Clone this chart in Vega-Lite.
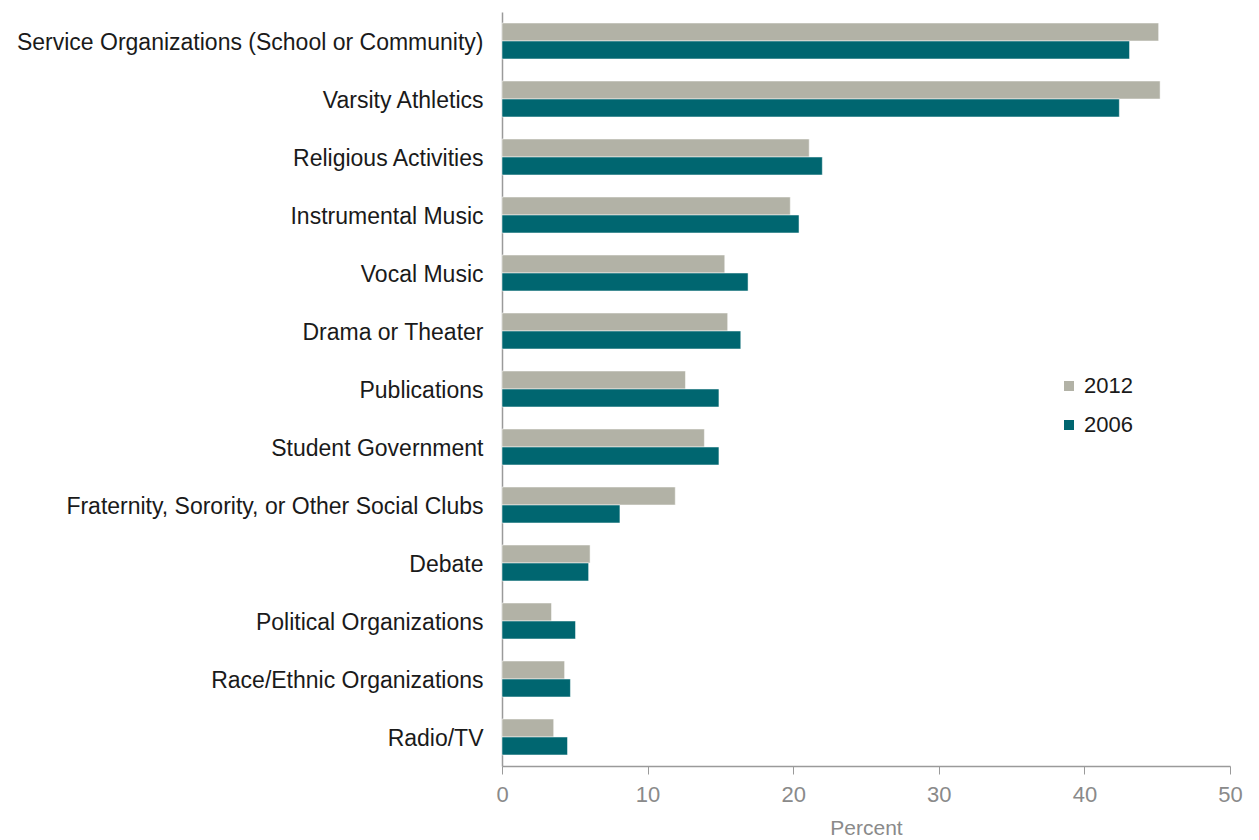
{
  "$schema": "https://vega.github.io/schema/vega-lite/v6.json",
  "autosize": "none",
  "width": 728,
  "height": 754,
  "padding": {"left": 502, "top": 12, "right": 29, "bottom": 74},
  "background": "white",
  "config": {"view": {"stroke": null}, "font": "Liberation Sans"},
  "data": {"values": [
    {"activity": "Service Organizations (School or Community)", "year": "2012", "pct": 45.1},
    {"activity": "Service Organizations (School or Community)", "year": "2006", "pct": 43.1},
    {"activity": "Varsity Athletics", "year": "2012", "pct": 45.2},
    {"activity": "Varsity Athletics", "year": "2006", "pct": 42.4},
    {"activity": "Religious Activities", "year": "2012", "pct": 21.1},
    {"activity": "Religious Activities", "year": "2006", "pct": 22.0},
    {"activity": "Instrumental Music", "year": "2012", "pct": 19.8},
    {"activity": "Instrumental Music", "year": "2006", "pct": 20.4},
    {"activity": "Vocal Music", "year": "2012", "pct": 15.3},
    {"activity": "Vocal Music", "year": "2006", "pct": 16.9},
    {"activity": "Drama or Theater", "year": "2012", "pct": 15.5},
    {"activity": "Drama or Theater", "year": "2006", "pct": 16.4},
    {"activity": "Publications", "year": "2012", "pct": 12.6},
    {"activity": "Publications", "year": "2006", "pct": 14.9},
    {"activity": "Student Government", "year": "2012", "pct": 13.9},
    {"activity": "Student Government", "year": "2006", "pct": 14.9},
    {"activity": "Fraternity, Sorority, or Other Social Clubs", "year": "2012", "pct": 11.9},
    {"activity": "Fraternity, Sorority, or Other Social Clubs", "year": "2006", "pct": 8.1},
    {"activity": "Debate", "year": "2012", "pct": 6.05},
    {"activity": "Debate", "year": "2006", "pct": 5.95},
    {"activity": "Political Organizations", "year": "2012", "pct": 3.4},
    {"activity": "Political Organizations", "year": "2006", "pct": 5.05},
    {"activity": "Race/Ethnic Organizations", "year": "2012", "pct": 4.3},
    {"activity": "Race/Ethnic Organizations", "year": "2006", "pct": 4.7},
    {"activity": "Radio/TV", "year": "2012", "pct": 3.55},
    {"activity": "Radio/TV", "year": "2006", "pct": 4.5}
  ]},
  "mark": {"type": "bar", "stroke": "white", "strokeWidth": 0.5},
  "encoding": {
    "y": {
      "field": "activity", "type": "nominal", "sort": null,
      "scale": {"paddingInner": 0.38, "paddingOuter": 0.19},
      "axis": {
        "title": null, "ticks": false, "domainColor": "#9a9a9a", "domainWidth": 1.5,
        "labelFontSize": 23, "labelColor": "#1a1a1a", "labelPadding": 19, "labelLimit": 500, "labelOffset": 2
      }
    },
    "yOffset": {"field": "year", "type": "nominal", "sort": ["2012", "2006"]},
    "x": {
      "field": "pct", "type": "quantitative",
      "scale": {"domain": [0, 50], "nice": false},
      "axis": {
        "title": "Percent", "values": [0, 10, 20, 30, 40, 50], "grid": false, "labelFlush": false,
        "domainColor": "#9a9a9a", "domainWidth": 1.5, "tickColor": "#9a9a9a", "tickSize": 8,
        "labelFontSize": 22, "labelColor": "#8a8a8a", "labelPadding": 10,
        "titleFontSize": 21, "titleFontWeight": "normal", "titleColor": "#8a8a8a", "titlePadding": 12
      }
    },
    "color": {
      "field": "year", "type": "nominal",
      "scale": {"domain": ["2012", "2006"], "range": ["#b2b2a6", "#006670"]},
      "legend": {
        "title": null, "orient": "none", "legendX": 556, "legendY": 363,
        "symbolType": "square", "symbolSize": 100, "symbolStrokeWidth": 0,
        "labelFontSize": 22, "labelColor": "#1a1a1a", "rowPadding": 17, "labelOffset": 4
      }
    }
  }
}
